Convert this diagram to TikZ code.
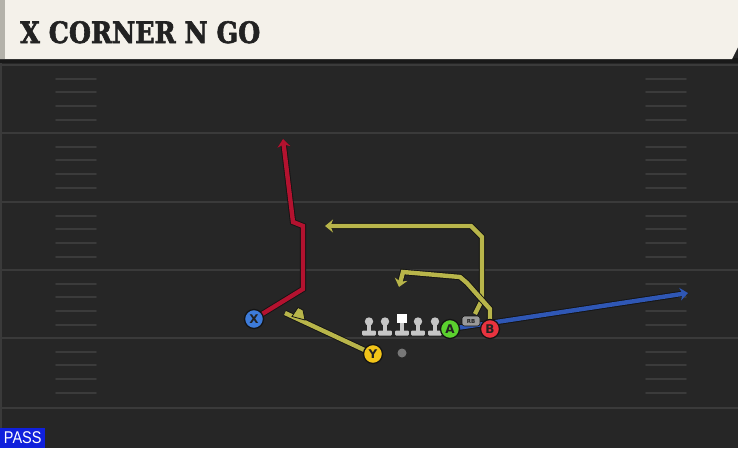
\documentclass[tikz,border=0pt]{standalone}
\usepackage{fontspec}
\setmainfont{DejaVu Sans}
\newfontfamily\titlefont{DejaVu Serif}[FakeStretch=0.86, BoldFeatures={FakeBold=2}]
\newfontfamily\passfont{Liberation Sans}[FakeStretch=0.85]
\usetikzlibrary{arrows.meta}
\definecolor{field}{HTML}{262626}
\definecolor{yardline}{HTML}{3A3A3A}
\definecolor{hashc}{HTML}{3B3B3B}
\definecolor{titlebg}{HTML}{F4F1EA}
\definecolor{titletext}{HTML}{222222}
\definecolor{titleedge}{HTML}{B4B2AA}
\definecolor{routered}{HTML}{B3122F}
\definecolor{routeyellow}{HTML}{B8B54A}
\definecolor{routeblue}{HTML}{2F57B5}
\definecolor{routeedge}{HTML}{141414}
\definecolor{xblue}{HTML}{3D7BD9}
\definecolor{yyellow}{HTML}{F2C418}
\definecolor{agreen}{HTML}{5BD12E}
\definecolor{bred}{HTML}{E8333F}
\definecolor{linegrey}{HTML}{C6C6C6}
\definecolor{ballgrey}{HTML}{777777}
\definecolor{rbgrey}{HTML}{9A9A9A}
\definecolor{passblue}{HTML}{1020DC}
\pgfdeclarelayer{bg}
\pgfdeclarelayer{routelayer}
\pgfsetlayers{bg,routelayer,main}
\tikzset{
  player/.style={circle, draw=routeedge, line width=1.3pt, minimum size=19pt, inner sep=0pt,
    font=\bfseries\fontsize{12}{12}\selectfont, text=titletext},
  route/.style={line width=4.4pt, line join=miter, preaction={draw=routeedge, line width=6.2pt}},
  tip/.style={-{Stealth[length=8pt,width=13pt,inset=2.5pt]}},
  yard/.style={draw=yardline, line width=2.4pt},
  hashmark/.style={draw=hashc, line width=1.8pt, line cap=round},
}
\begin{document}
\begin{tikzpicture}[x=1pt,y=-1pt]
\useasboundingbox (0,0) rectangle (738,448);
\begin{pgfonlayer}{bg}
  \fill[field] (0,0) rectangle (738,448);
  \fill[yardline] (0,59) rectangle (2,448);
  \foreach \yy in {65,133,202,270,338,408} {
    \draw[yard] (0,\yy) -- (738,\yy);
  }
  \foreach \yy in {65,133,202,270,338} {
    \foreach \dd in {14,27,41,55} {
      \draw[hashmark] (56,\yy+\dd) -- (96,\yy+\dd);
      \draw[hashmark] (646,\yy+\dd) -- (686,\yy+\dd);
    }
  }
  \fill[black!90] (0,58) rectangle (738,63);
  \fill[titlebg] (0,0) -- (738,0) -- (738,47) -- (732,59) -- (0,59) -- cycle;
  \fill[titleedge] (0,0) rectangle (5,59);
\end{pgfonlayer}

\node[anchor=base west, inner sep=0pt, text=titletext,
  font=\titlefont\bfseries\fontsize{29.5}{29.5}\selectfont] (title) at (20,43) {X CORNER N GO};

\node[fill=passblue, anchor=south west, minimum width=45pt, minimum height=20pt, inner sep=0pt,
  text=white, font=\passfont\fontsize{17}{17}\selectfont] (pass) at (0,448) {PASS};

% linemen
\foreach \x in {369,385,418,435} {
  \fill[linegrey] (\x,321.5) circle (4.2pt);
  \fill[linegrey] (\x-2.3,323) rectangle (\x+2.3,332);
  \fill[linegrey, rounded corners=1pt] (\x-6.8,330.5) rectangle (\x+6.8,335.5);
}
\fill[white] (397,313.5) rectangle (407,323);
\fill[linegrey] (399.7,323) rectangle (404.3,332);
\fill[linegrey, rounded corners=1pt] (395.2,330.5) rectangle (408.8,335.5);

\node[circle, fill=ballgrey, minimum size=9pt, inner sep=0pt] (ball) at (402,353) {};

\node[player, fill=xblue] (X) at (254,319) {X};
\node[player, fill=yyellow] (Y) at (373,354) {Y};
\node[player, fill=agreen] (A) at (450,329) {A};
\node[player, fill=bred] (B) at (490,329) {B};
\node[rounded corners=2.5pt, fill=rbgrey, draw=routeedge, line width=0.6pt, minimum width=18pt,
  minimum height=10pt, inner sep=0pt, text=titletext,
  font=\bfseries\fontsize{5.5}{5.5}\selectfont] (rb) at (471,321) {RB};

\coordinate (r1) at (303,289);
\coordinate (r2) at (303,226);
\coordinate (r3) at (293,222);
\coordinate (rend) at (283,139);
\coordinate (yend) at (285,313);
\coordinate (s1) at (475,314);
\coordinate (s2) at (482,300);
\coordinate (s3) at (482,237);
\coordinate (s4) at (471,226);
\coordinate (send) at (325,226);
\coordinate (t1) at (490,309);
\coordinate (t2) at (467,283);
\coordinate (t3) at (460,277);
\coordinate (t4) at (403,272);
\coordinate (tend) at (399,287);
\coordinate (bend) at (688,293);

\begin{pgfonlayer}{routelayer}
  \draw[route, routeblue, tip] (A.center) -- (bend);
  \draw[route, routered, tip] (X.center) -- (r1) -- (r2) -- (r3) -- (rend);
  \draw[route, routeyellow, tip] (s1) -- (s2) -- (s3) -- (s4) -- (send);
  \draw[route, routeyellow, tip] (B.center) -- (t1) -- (t2) -- (t3) -- (t4) -- (tend);
  \draw[route, routeyellow] (Y.center) -- (yend);
  \filldraw[routeyellow, draw=routeedge, line width=0.8pt] (292,316.5) -- (298,307.5) -- (303,310) -- (305,320) -- cycle;
\end{pgfonlayer}
\end{tikzpicture}
\end{document}
